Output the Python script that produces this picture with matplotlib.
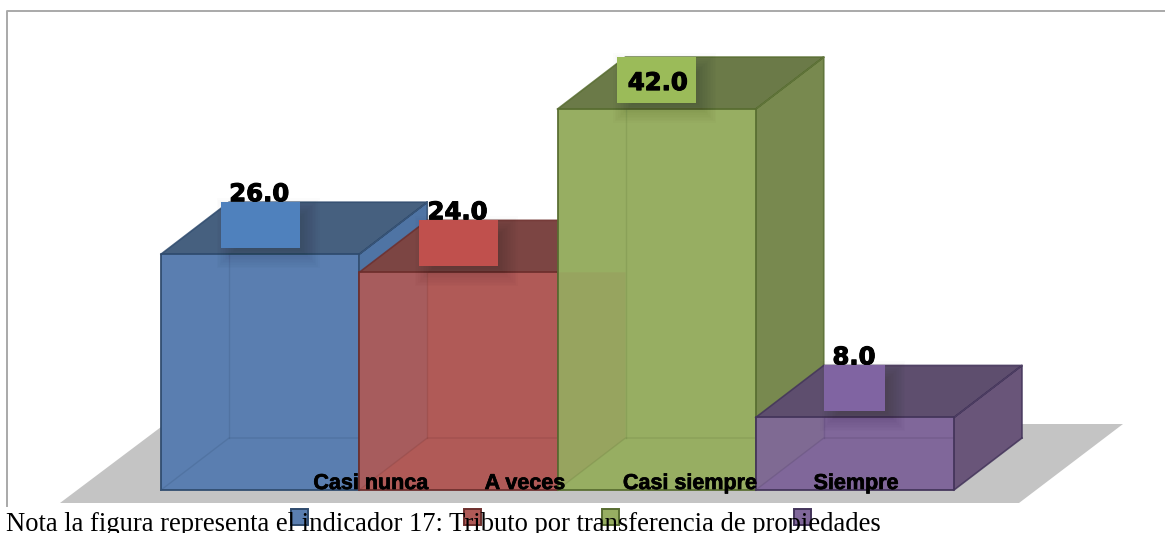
import numpy as np
import matplotlib
matplotlib.use("Agg")
import matplotlib.pyplot as plt
import matplotlib.patheffects as pe
from matplotlib.patches import Polygon, Rectangle

categories = ["Casi nunca", "A veces", "Casi siempre", "Siempre"]
values = [26.0, 24.0, 42.0, 8.0]
label_colors = ["#4f81bd", "#c0504d", "#9bbb59", "#8064a2"]
front_colors = ["#5a7eb0", "#b05a57", "#97ae62", "#80679a"]
edge_colors = ["#2f4b6e", "#6e2f2d", "#586d31", "#43345a"]
top_colors = ["#46607f", "#7c4543", "#6b7a48", "#5e4e6e"]
side_colors = ["#4f74a4", "#a04543", "#78894f", "#695579"]

W, H = 1165, 533
BAR_W = 198.25      # pixels per category
Y_SCALE = 9.07      # pixels per value unit
X0, Y0 = 161, 490   # pixel position of the chart origin

# depth of the oblique projection, in data units
DX = 68 / BAR_W
DY = 52 / Y_SCALE

fig = plt.figure(figsize=(W / 100, H / 100), dpi=100)
ax = fig.add_axes([0, 0, 1, 1])
ax.set_xlim(-X0 / BAR_W, (W - X0) / BAR_W)
ax.set_ylim(-(H - Y0) / Y_SCALE, Y0 / Y_SCALE)
ax.axis("off")


def px(x, y):
    # pixel position (from the top left) to data coordinates
    return (x - X0) / BAR_W, (Y0 - y) / Y_SCALE


def poly(pts, **kw):
    ax.add_patch(Polygon(pts, closed=True, **kw))


# outer frame, open on the right
frame = [px(7, 506), px(7, 11), px(1165, 11)]
ax.plot(*zip(*frame), color="#a9a9a9", lw=1.4, zorder=1)

# floor
poly([px(60, 503), px(165, 424), px(1123, 424), px(1019, 503)],
     facecolor="#c4c4c4", edgecolor="none", zorder=2)

# boxes, left to right
for i, v in enumerate(values):
    fc, ec, tc, sc = front_colors[i], edge_colors[i], top_colors[i], side_colors[i]
    l, r = i, i + 1
    z = 3 + i
    # right side and top
    poly([(r, 0), (r + DX, DY), (r + DX, v + DY), (r, v)], facecolor=sc, edgecolor="none", zorder=z)
    poly([(l, v), (r, v), (r + DX, v + DY), (l + DX, v + DY)], facecolor=tc, edgecolor="none", zorder=z)
    # front
    poly([(l, 0), (r, 0), (r, v), (l, v)], facecolor=fc, edgecolor="none", zorder=z)
    # previous box's side seen through this one
    if i > 0:
        h = min(values[i - 1], v)
        poly([(l, 0), (l + DX, DY), (l + DX, h), (l, h)], facecolor=side_colors[i - 1], edgecolor="none", alpha=0.09, zorder=z)
    # back edges seen through the front
    ax.plot([l + DX, l + DX], [DY, v], color=ec, lw=1, alpha=0.2, zorder=z)
    ax.plot([l, l + DX, r], [0, DY, DY], color=ec, lw=1, alpha=0.2, zorder=z)
    # wire lines
    ax.plot([l, r, r, l, l], [0, 0, v, v, 0], color=ec, lw=1.4, zorder=z, alpha=0.9)
    ax.plot([l, l + DX, r + DX, r, r + DX, r + DX], [v, v + DY, v + DY, v, v + DY, DY], color=ec, lw=1.2, zorder=z, alpha=0.85)
    ax.plot([r, r + DX], [0, DY], color=ec, lw=1.2, zorder=z, alpha=0.85)

# value labels with soft shadows
box_w = [79, 79, 79, 61]
box_h = 46 / Y_SCALE
for i, v in enumerate(values):
    w = box_w[i] / BAR_W
    cx = i + 0.5
    top = v + DY
    x0 = cx - w / 2
    y0 = top - box_h
    for g in np.linspace(-12, 12, 16):
        ax.add_patch(Rectangle((x0 + (8 - g) / BAR_W, y0 - (8 + g) / Y_SCALE),
                               w + 2 * g / BAR_W, box_h + 2 * g / Y_SCALE,
                               facecolor="black", edgecolor="none", alpha=0.013, zorder=9))
    ax.add_patch(Rectangle((x0, y0), w, box_h, facecolor=label_colors[i], edgecolor="none", zorder=10))
    inside = v == max(values)
    ty = y0 + 13 / Y_SCALE if inside else top + 1 / Y_SCALE
    ax.text(cx + (1 if inside else -1) / BAR_W, ty, f"{v:.1f}", ha="center", va="baseline", family="DejaVu Sans",
            fontweight="bold", fontsize=17.5, color="black", zorder=11 if inside else 9.5,
            path_effects=[pe.withStroke(linewidth=0.8, foreground="black")])

# category labels sit on the boxes' base line
label_x = [371, 525, 690, 856]
for name, x in zip(categories, label_x):
    ax.text(px(x, 0)[0], 1 / Y_SCALE, name, ha="center", va="baseline", family="Liberation Sans",
            fontweight="bold", fontsize=15.5, color="black", zorder=12,
            path_effects=[pe.withStroke(linewidth=0.5, foreground="black")])

# legend swatches, without text
swatch_x = [291, 464, 602, 794]
for x, fc, ec in zip(swatch_x, front_colors, edge_colors):
    x0, y0 = px(x, 525)
    ax.add_patch(Rectangle((x0, y0), 17 / BAR_W, 16 / Y_SCALE, facecolor=fc, edgecolor=ec, lw=1.4, zorder=12))

tx, ty = px(6, 531)
ax.text(tx, ty, "Nota la figura representa el indicador 17: Tributo por transferencia de propiedades",
        family="Liberation Serif", fontsize=19.2, color="black", ha="left", va="baseline", zorder=13)

fig.savefig("out.png", dpi=100)
